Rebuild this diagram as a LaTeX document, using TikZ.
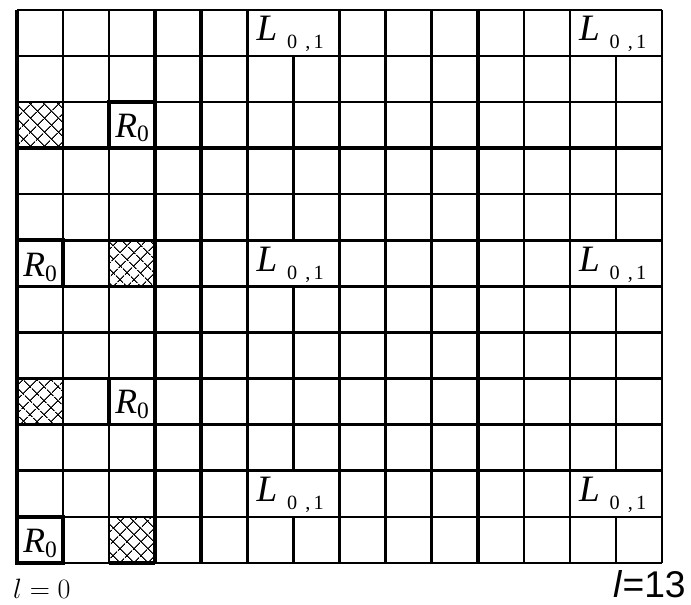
\documentclass[tikz,border=0pt]{standalone}
\usepackage{fontspec}
\newfontfamily\arialfont{Liberation Sans}
\newfontfamily\timesfont{Liberation Serif}
\usetikzlibrary{patterns.meta}

\newcommand{\Rlab}{\textit{R}\raisebox{-3pt}{\fontsize{14.5}{15}\selectfont 0}}
\newcommand{\Llab}{\textit{L}\hspace{6pt}\raisebox{-5pt}{\fontsize{12.5}{14}\selectfont 0\hspace{5pt},\hspace{2pt}1}}

\tikzset{
  gridline/.style={line width=1.5pt},
  boldline/.style={line width=2.3pt},
  hatchfill/.style={pattern={Lines[angle=45,distance=6.5pt,line width=0.7pt]}},
  hatchfillb/.style={pattern={Lines[angle=-45,distance=6.5pt,line width=0.7pt]}},
  rtext/.style={anchor=base, inner sep=0pt, font=\timesfont\fontsize{22}{24}\selectfont},
  ltext/.style={anchor=base, inner sep=0pt, font=\timesfont\fontsize{23}{25}\selectfont},
}

\begin{document}
\begin{tikzpicture}
  \useasboundingbox (-0.369,-0.912) rectangle (14.63,12.217);

  % hatched slots
  \foreach \cx/\cy in {0/9, 2/6, 0/3, 2/0} {
    \fill[hatchfill] (\cx,\cy) rectangle ++(1,1);
    \fill[hatchfillb] (\cx,\cy) rectangle ++(1,1);
  }

  % rows
  \foreach \y in {0,...,12}
    \draw[gridline] (0,\y) -- (14,\y);
  % columns
  \foreach \x in {0,1,2,3,4,5,7,8,9,10,11,12,14}
    \draw[gridline] (\x,0) -- (\x,12);
  % columns broken by the merged L cells
  \foreach \x in {6,13}
    \draw[gridline] (\x,0) -- (\x,1) (\x,2) -- (\x,6) (\x,7) -- (\x,11);

  % heavier separators
  \foreach \x in {3,4,7,10}
    \draw[boldline] (\x,0) -- (\x,12);
  \draw[boldline] (0,0) -- (0,12);
  \draw[boldline] (0,9) -- (14,9);

  % R boxes
  \foreach \cx/\cy in {2/9, 0/6, 2/3, 0/0}
    \draw[boldline] (\cx,\cy) rectangle ++(1,1);
  \draw[boldline] (2,0) -- (3,0);
  \draw[boldline] (12,6) -- (14,6);

  % labels
  \node[rtext] (r0a) at (2.5,9.24) {\Rlab};
  \node[rtext] (r0b) at (0.5,6.22) {\Rlab};
  \node[rtext] (r0c) at (2.5,3.24) {\Rlab};
  \node[rtext] (r0d) at (0.5,0.22) {\Rlab};

  \foreach \lx/\ly/\nm in {5.93/11.33/la, 12.93/11.33/lb, 5.93/6.33/lc,
                           12.93/6.33/ld, 5.93/1.33/le, 12.93/1.33/lf}
    \node[ltext] (\nm) at (\lx,\ly) {\Llab};

  \node[anchor=base, inner sep=0pt, font=\fontsize{18}{20}\selectfont]
    (start) at (0.54,-0.78) {$l=0$};
  \node[anchor=base, inner sep=0pt, font=\arialfont\fontsize{23}{25}\selectfont]
    (finish) at (13.73,-0.76) {\textit{l}=13};
\end{tikzpicture}
\end{document}
